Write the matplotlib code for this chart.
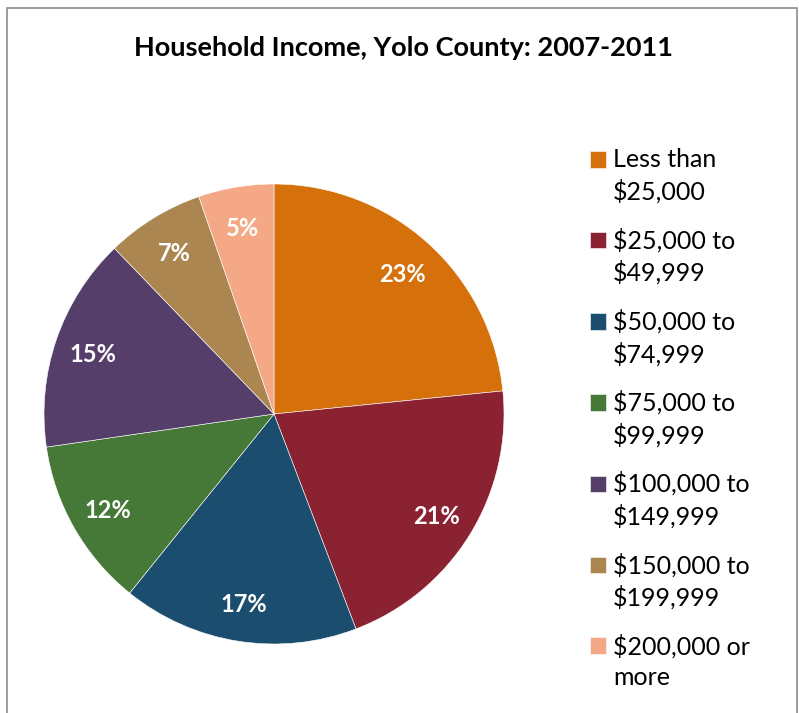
import matplotlib
matplotlib.use("Agg")
import matplotlib.pyplot as plt
from matplotlib.patches import Rectangle
from matplotlib.legend_handler import HandlerPatch

# ==== DATA ====
categories = [
    "Less than\n$25,000",
    "$25,000 to\n$49,999",
    "$50,000 to\n$74,999",
    "$75,000 to\n$99,999",
    "$100,000 to\n$149,999",
    "$150,000 to\n$199,999",
    "$200,000 or\nmore",
]
shares = [23.4, 20.8, 16.6, 11.9, 15.1, 6.9, 5.3]
colors = ["#D5700A", "#8B2231", "#1B4D6E", "#467937", "#553F6A", "#AB8650", "#F4A886"]

TITLE = "Household Income, Yolo County: 2007-2011"

plt.rcParams["font.family"] = ["Lato", "DejaVu Sans"]

W, H = 799, 713
fig = plt.figure(figsize=(W / 100, H / 100), dpi=100)

# chart frame
fig.patches.append(Rectangle((7 / W, -0.1), 790 / W, (H - 8) / H + 0.1,
                             transform=fig.transFigure, fill=False,
                             edgecolor="#8C8C8C", linewidth=1.2))

# pie: centre (274, 414) px, radius 230 px
cx, cy, r = 274, 414, 230
ax = fig.add_axes([(cx - r) / W, (H - cy - r) / H, 2 * r / W, 2 * r / H])
wedges, _, autotexts = ax.pie(
    shares, colors=colors, startangle=90, counterclock=False,
    autopct="%.0f%%", pctdistance=0.83,
    wedgeprops=dict(edgecolor="white", linewidth=0.4),
    textprops=dict(color="white", fontsize=17, fontweight="bold"),
)
for t in autotexts:
    x, y = t.get_position()
    t.set_position((x, y - 0.01))
ax.set_xlim(-1, 1)
ax.set_ylim(-1, 1)

fig.text(404 / W, 1 - 48 / H, TITLE, ha="center", va="center",
         fontsize=19.5, fontweight="bold")


# legend squares sit beside the first line of each two-line label
def top_square(legend, orig_handle, xdescent, ydescent, width, height, fontsize):
    return Rectangle((-xdescent, -ydescent + 12.3), width, height)


leg = fig.legend(wedges, categories, loc="upper left",
                 bbox_to_anchor=(580 / W, 1 - 138 / H), frameon=False,
                 fontsize=18, handlelength=0.64, handleheight=0.64,
                 handletextpad=0.28, labelspacing=0.97, borderaxespad=0,
                 handler_map={matplotlib.patches.Wedge: HandlerPatch(patch_func=top_square)})
for t in leg.get_texts():
    t.set_linespacing(1.4)

plt.savefig("out.png", dpi=100)
